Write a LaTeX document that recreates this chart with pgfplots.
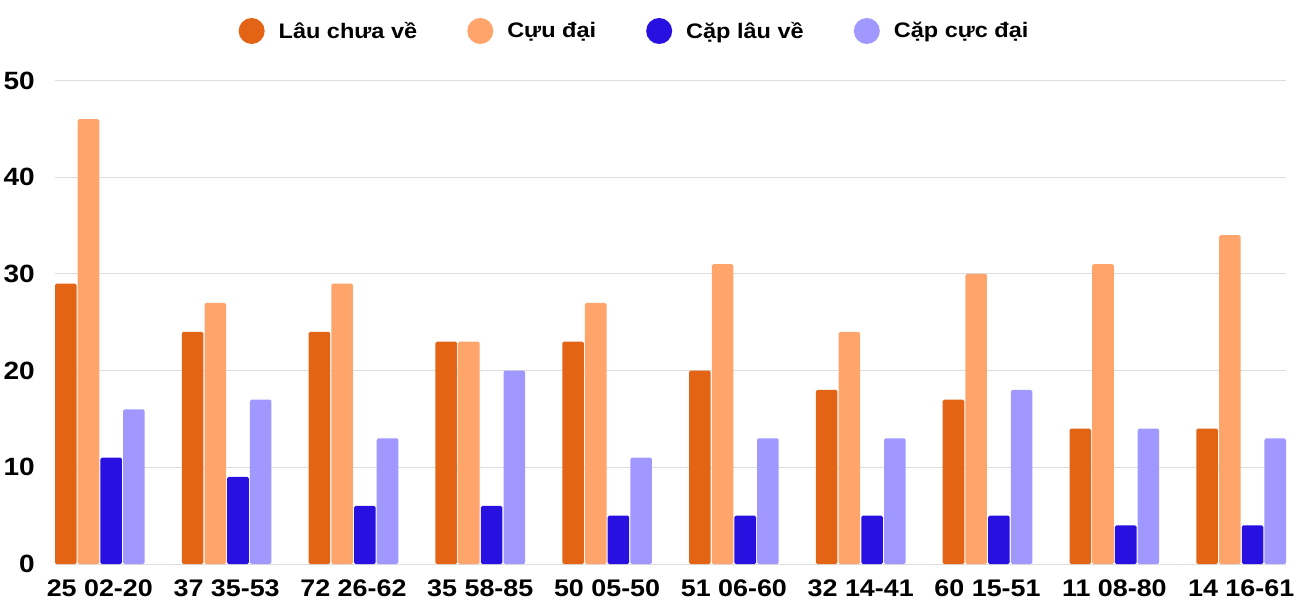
\documentclass[border=0pt]{standalone}
\usepackage{fontspec}
\setmainfont{Liberation Sans}[FakeStretch=1.12]
\usepackage{pgfplots}
\usepackage{pgfplotstable}
\pgfplotsset{compat=1.18}

\definecolor{lauc}{RGB}{227,100,20}
\definecolor{cuuc}{RGB}{255,164,106}
\definecolor{capc}{RGB}{40,16,224}
\definecolor{capcdc}{RGB}{160,152,254}
\definecolor{gridc}{RGB}{221,221,221}

\pgfplotstableread{
idx lau cuu cap capcd
0   29  46  11  16
1   24  27  9   17
2   24  29  6   13
3   23  23  6   20
4   23  27  5   11
5   20  31  5   13
6   18  24  5   13
7   17  30  5   18
8   14  31  4   14
9   14  34  4   13
}\loto

\begin{document}
\begin{tikzpicture}[x=1pt,y=1pt]
\useasboundingbox (0,0) rectangle (1300,600);
\begin{axis}[
  at={(55pt,36pt)}, anchor=south west,
  scale only axis,
  width=1231pt, height=483.5pt,
  xmin=-0.3535, xmax=9.3535,
  ymin=0, ymax=50,
  ytick={0,10,20,30,40,50},
  xtick={0,...,9},
  xticklabels={25 02-20,37 35-53,72 26-62,35 58-85,50 05-50,51 06-60,32 14-41,60 15-51,11 08-80,14 16-61},
  axis line style={draw=none},
  tick style={draw=none},
  ymajorgrids,
  major grid style={gridc, line width=1pt},
  extra y ticks={0},
  extra y tick labels={},
  extra y tick style={grid style={gridc, line width=2.5pt}},
  /pgf/number format/assume math mode=true,
  yticklabel style={font=\bfseries\fontsize{25}{30}\selectfont, inner sep=0pt, xshift=-20pt},
  xticklabel style={font=\bfseries\fontsize{24}{28}\selectfont, inner sep=0pt, yshift=-11pt},
  ybar, bar width=0.17,
  legend columns=4,
  legend style={
    at={(0.47,1.1024)}, anchor=center,
    draw=none, fill=none, inner sep=0pt, outer sep=0pt,
    font=\bfseries\fontsize{21}{25}\selectfont,
    nodes={inner xsep=0pt, inner ysep=1pt},
    /tikz/every odd column/.append style={column sep=14pt},
    /tikz/every even column/.append style={column sep=50pt},
  },
  legend image code/.code={\fill[#1] (13pt,0) circle (13pt);},
]
\addplot[draw=none, fill=lauc, bar shift=-0.2685, rounded corners=1.5pt] table[x=idx, y=lau] {\loto};
\addplot[draw=none, fill=cuuc, bar shift=-0.0895, rounded corners=1.5pt] table[x=idx, y=cuu] {\loto};
\addplot[draw=none, fill=capc, bar shift=0.0895, rounded corners=1.5pt] table[x=idx, y=cap] {\loto};
\addplot[draw=none, fill=capcdc, bar shift=0.2685, rounded corners=1.5pt] table[x=idx, y=capcd] {\loto};
\legend{Lâu chưa về, Cựu đại, Cặp lâu về, Cặp cực đại}
\end{axis}
\end{tikzpicture}
\end{document}
